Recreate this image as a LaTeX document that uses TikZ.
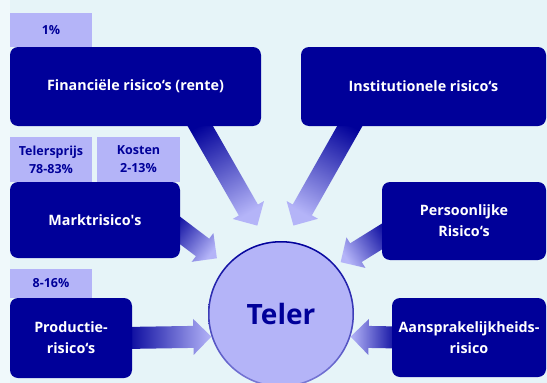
\documentclass[tikz,border=0pt]{standalone}
\usepackage{fontspec}
\setmainfont{Open Sans}
\usetikzlibrary{calc, backgrounds}

\definecolor{navy}{HTML}{000099}
\definecolor{lila}{HTML}{B4B4F8}
\definecolor{achter}{HTML}{E6F4F8}
\definecolor{rand}{HTML}{F0F9FB}
\definecolor{ringkl}{HTML}{7C7CD6}

\tikzset{
  risico/.style={fill=navy, rounded corners=8pt, text=white, align=center, inner sep=0pt,
    font=\bfseries\fontsize{14.3}{21}\selectfont},
  aandeel/.style={fill=lila, text=navy, align=center, inner sep=0pt,
    font=\bfseries\fontsize{12.5}{18}\selectfont},
}

% dikke pijl met kleurverloop: van #1 naar #2, #3 = shading angle
\newcommand{\riskpijl}[3]{%
  \coordinate (hb) at ($(#2)!18pt!(#1)$);
  \shade[top color=navy, bottom color=lila, shading angle=#3]
    ($(#1)!11pt!90:(#2)$) -- ($(hb)!11pt!90:(#2)$) -- ($(hb)!18pt!90:(#2)$) -- (#2)
    -- ($(hb)!18pt!-90:(#2)$) -- ($(hb)!11pt!-90:(#2)$) -- ($(#1)!11pt!-90:(#2)$) -- cycle;
}

\begin{document}
\begin{tikzpicture}[x=1pt, y=-1pt]
\useasboundingbox (0,0) rectangle (547,383);

% percentages
\node[aandeel, minimum width=82pt, minimum height=34pt] (pct1) at (51,30) {1\%};
\node[aandeel, minimum width=82pt, minimum height=45pt] (tel) at (51,159.5) {Telersprijs\\78-83\%};
\node[aandeel, minimum width=83pt, minimum height=45pt] (kos) at (138.5,159.5) {Kosten\\2-13\%};
\node[aandeel, minimum width=82pt, minimum height=29pt] (pct8) at (51,283.5) {8-16\%};

% risico's
\node[risico, minimum width=251pt, minimum height=79pt] (fin) at (135.5,86.5) {Financiële risico‘s (rente)};
\node[risico, minimum width=245pt, minimum height=79pt] (inst) at (423.5,86.5) {Institutionele risico‘s};
\node[risico, minimum width=170pt, minimum height=76pt] (markt) at (95,220) {Marktrisico\textquotesingle s};
\node[risico, minimum width=164pt, minimum height=78pt] (pers) at (464,221) {Persoonlijke\\Risico‘s};
\node[risico, minimum width=122pt, minimum height=80pt] (prod) at (71,338) {Productie-\\risico‘s};
\node[risico, minimum width=154pt, minimum height=79pt] (aans) at (469,337.5) {Aansprakelijkheids-\\risico};

% teler
\node[circle, minimum size=146pt, fill=lila, text=navy, font=\bfseries\fontsize{28}{28}\selectfont,
  path picture={\shade[top color=navy, middle color=lila!90!navy, bottom color=ringkl, even odd rule]
    (path picture bounding box.center) circle (73pt) circle (71.5pt);}] (teler) at (281,314) {Teler};

\begin{scope}[on background layer]
\fill[rand] (0,0) rectangle (547,383);
\fill[achter] (10,0) rectangle (547,383);
\coordinate (fin-uit) at ([xshift=-66pt, yshift=9pt]fin.south east);
\coordinate (fin-in) at ($(teler.center)!1.25!(teler.105)$);
\coordinate (inst-uit) at ([xshift=54pt, yshift=9pt]inst.south west);
\coordinate (inst-in) at ($(teler.center)!1.22!(teler.82)$);
\coordinate (markt-uit) at ([xshift=-10pt, yshift=-3pt]markt.east);
\coordinate (markt-in) at ($(teler.center)!1.16!(teler.139)$);
\coordinate (pers-uit) at ([xshift=9pt, yshift=-10pt]pers.west);
\coordinate (pers-in) at ($(teler.center)!1.08!(teler.41)$);
\coordinate (prod-uit) at ([xshift=-8pt]prod.east);
\coordinate (aans-uit) at ([xshift=8pt]aans.west);
\riskpijl{fin-uit}{fin-in}{30}
\riskpijl{inst-uit}{inst-in}{-30}
\riskpijl{markt-uit}{markt-in}{53}
\riskpijl{pers-uit}{pers-in}{-58}
\riskpijl{prod-uit}{teler.198}{90}
\riskpijl{aans-uit}{teler.-18}{-90}
\end{scope}
\end{tikzpicture}
\end{document}
